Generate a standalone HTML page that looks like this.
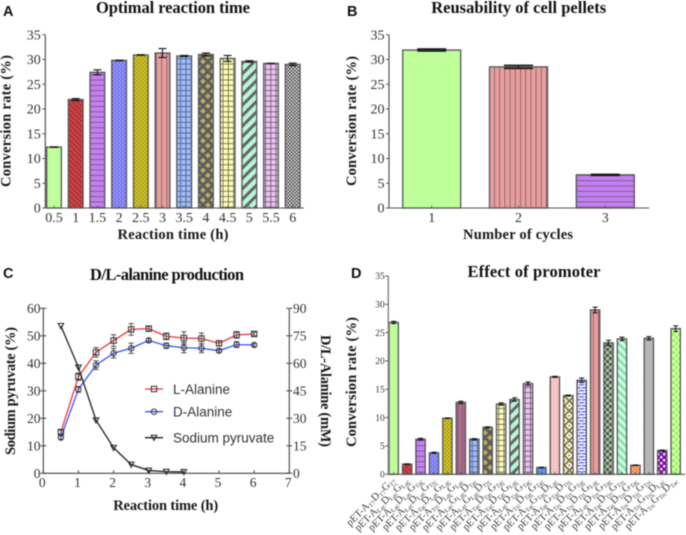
<!DOCTYPE html>
<html lang="en">
<head>
<meta charset="utf-8">
<title>Conversion rate charts</title>
<style>
html,body{margin:0;padding:0;background:#fff;width:686px;height:535px;overflow:hidden}
svg{display:block;filter:blur(0.5px)}
text{font-family:"Liberation Serif",serif;fill:#333}
.title{font-weight:bold;font-size:16.5px;fill:#111;text-anchor:middle}
.axt{font-weight:bold;font-size:14.5px;fill:#1a1a1a;text-anchor:middle}
.plabel{font-family:"Liberation Sans",sans-serif;font-weight:bold;font-size:14.5px;fill:#111}
.leg{font-family:"Liberation Sans",sans-serif;font-size:13.5px;fill:#333}
</style>
</head>
<body>
<svg id="chart" xmlns="http://www.w3.org/2000/svg" width="686" height="535" viewBox="0 0 686 535">
<defs>
<pattern id="p-red" width="3.6" height="3.6" patternUnits="userSpaceOnUse" patternTransform="rotate(-45)"><rect width="3.6" height="3.6" fill="#dd3c3e"/><rect width="1.2" height="3.6" fill="#7c3c40"/></pattern>
<pattern id="p-purple" width="5.3" height="5.3" patternUnits="userSpaceOnUse"><rect width="5.3" height="5.3" fill="#c67ef4"/><rect width="5.3" height="1" fill="#77608c"/></pattern>
<pattern id="p-blue" width="4" height="4" patternUnits="userSpaceOnUse"><rect width="4" height="4" fill="#8a8aff"/><circle cx="1" cy="1" r=".55" fill="#55558f"/><circle cx="3" cy="3" r=".55" fill="#55558f"/></pattern>
<pattern id="p-olive" width="4" height="4" patternUnits="userSpaceOnUse"><rect width="4" height="4" fill="#c8bb22"/><circle cx="1" cy="1" r=".55" fill="#6a6630"/><circle cx="3" cy="3" r=".55" fill="#6a6630"/></pattern>
<pattern id="p-pink" width="5.2" height="5.2" patternUnits="userSpaceOnUse"><rect width="5.2" height="5.2" fill="#e99d9d"/><rect width=".9" height="5.2" fill="#866"/></pattern>
<pattern id="p-mauve" width="4.4" height="4.4" patternUnits="userSpaceOnUse"><rect width="4.4" height="4.4" fill="#b0688f"/><rect width=".8" height="4.4" fill="#705a70"/></pattern>
<pattern id="p-lblue" width="5.3" height="5.3" patternUnits="userSpaceOnUse"><rect width="5.3" height="5.3" fill="#9cbcff"/><rect width="5.3" height=".9" fill="#5a6480"/><rect width=".9" height="5.3" fill="#5a6480"/></pattern>
<pattern id="p-cross" width="7" height="7" patternUnits="userSpaceOnUse" patternTransform="rotate(45)"><rect width="7" height="7" fill="#bcae62"/><rect width="3" height="7" fill="#5e5e5e"/><rect width="7" height="3" fill="#5e5e5e"/></pattern>
<pattern id="p-yellow" width="5.3" height="5.3" patternUnits="userSpaceOnUse"><rect width="5.3" height="5.3" fill="#ffffb5"/><rect width="5.3" height=".9" fill="#6d6d5d"/><rect width=".9" height="5.3" fill="#6d6d5d"/></pattern>
<pattern id="p-mint" width="7.4" height="7.4" patternUnits="userSpaceOnUse" patternTransform="rotate(45)"><rect width="7.4" height="7.4" fill="#b8f6da"/><rect width="3" height="7.4" fill="#666"/></pattern>
<pattern id="p-lilac" width="5.3" height="5.3" patternUnits="userSpaceOnUse"><rect width="5.3" height="5.3" fill="#ecc2f2"/><rect width="5.3" height=".9" fill="#6f5f74"/><rect width=".9" height="5.3" fill="#6f5f74"/></pattern>
<pattern id="p-check" width="3.4" height="3.4" patternUnits="userSpaceOnUse"><rect width="3.4" height="3.4" fill="#ddd"/><rect width="1.7" height="1.7" fill="#4a4a4a"/><rect x="1.7" y="1.7" width="1.7" height="1.7" fill="#4a4a4a"/></pattern>
<pattern id="p-darkblue" width="4" height="4" patternUnits="userSpaceOnUse"><rect width="4" height="4" fill="#5f90ea"/></pattern>
<pattern id="p-blush" width="2.6" height="2.6" patternUnits="userSpaceOnUse"><rect width="2.6" height="2.6" fill="#fbcaca"/><rect width="1" height="1" fill="#e89a9a"/></pattern>
<pattern id="p-whiteolive" width="7" height="7" patternUnits="userSpaceOnUse" patternTransform="rotate(45)"><rect width="7" height="7" fill="#8b7d35"/><rect x="1" y="1" width="5" height="5" fill="#fff"/><rect x="2.6" y="2.6" width="1.8" height="1.8" fill="#8b7d35"/></pattern>
<pattern id="p-brick" width="6" height="6" patternUnits="userSpaceOnUse"><rect width="6" height="6" fill="#fff"/><rect width="6" height="1.6" fill="#6f6ff5"/><rect y="3" width="6" height="1.6" fill="#6f6ff5"/><rect x="2" width="1" height="1.6" fill="#fff"/><rect x="5" y="3" width="1" height="1.6" fill="#fff"/></pattern>
<pattern id="p-greencheck" width="6" height="6" patternUnits="userSpaceOnUse"><rect width="6" height="6" fill="#a6cf9c"/><rect width="3" height="3" fill="#555"/><rect x="3" y="3" width="3" height="3" fill="#555"/></pattern>
<pattern id="p-wmint" width="5.6" height="5.6" patternUnits="userSpaceOnUse" patternTransform="rotate(-45)"><rect width="5.6" height="5.6" fill="#7fe8ae"/><rect width="2.4" height="5.6" fill="#e6fff0"/></pattern>
<pattern id="p-orange" width="4" height="4" patternUnits="userSpaceOnUse"><rect width="4" height="4" fill="#ef8a50"/><circle cx="1" cy="1" r=".7" fill="#ffd8c0"/><circle cx="3" cy="3" r=".7" fill="#ffd8c0"/></pattern>
<pattern id="p-fine" width="2.4" height="2.4" patternUnits="userSpaceOnUse"><rect width="2.4" height="2.4" fill="#d4d4d4"/><rect width="1.2" height="1.2" fill="#999"/><rect x="1.2" y="1.2" width="1.2" height="1.2" fill="#999"/></pattern>
<pattern id="p-violet" width="6" height="6" patternUnits="userSpaceOnUse"><rect width="6" height="6" fill="#7a0f9e"/><rect width="2.4" height="2.4" fill="#f0e0f5"/><rect x="3" y="3" width="2.4" height="2.4" fill="#f0e0f5"/></pattern>
<pattern id="p-lime" width="6" height="6" patternUnits="userSpaceOnUse"><rect width="6" height="6" fill="#8bff3a"/><rect width="3" height="3" fill="#e8ffd8"/><rect x="3" y="3" width="3" height="3" fill="#e8ffd8"/></pattern>
</defs>

<text class="plabel" x="3" y="16">A</text>
<text class="plabel" x="347" y="16">B</text>
<text class="plabel" x="3" y="278">C</text>
<text class="plabel" x="351" y="278">D</text>

<text class="title" x="173" y="13" textLength="154">Optimal reaction time</text>
<text class="title" x="518.7" y="13" textLength="175">Reusability of cell pellets</text>
<text class="title" x="167" y="280" textLength="154">D/L-alanine production</text>
<text class="title" x="534" y="277" textLength="133">Effect of promoter</text>

<text class="axt" x="173" y="239" textLength="111">Reaction time (h)</text>
<text class="axt" x="518" y="239" textLength="110">Number of cycles</text>
<text class="axt" x="165.7" y="510" textLength="105">Reaction time (h)</text>

<text class="axt" transform="translate(10.5,121) rotate(-90)" textLength="132">Conversion rate (%)</text>
<text class="axt" transform="translate(356,121) rotate(-90)" textLength="130">Conversion rate (%)</text>
<text class="axt" transform="translate(15,391) rotate(-90)" textLength="128">Sodium pyruvate (%)</text>
<text class="axt" transform="translate(321,391) rotate(90)" textLength="112">D/L-Alanine (mM)</text>
<text class="axt" transform="translate(356,382) rotate(-90)" textLength="130">Conversion rate (%)</text>

<g id="layer"></g>
</svg>
<script>
// Panel A
const categoriesA = ["0.5","1","1.5","2","2.5","3","3.5","4","4.5","5","5.5","6"];
const valuesA = [12.3,21.9,27.4,29.8,30.9,31.3,30.7,31.0,30.2,29.6,29.2,29.0];
const errorsA = [0.05,0.2,0.5,0.05,0.05,0.9,0.1,0.3,0.6,0.15,0.02,0.25];
const ticksA = [0,5,10,15,20,25,30,35];
// Panel B
const categoriesB = ["1","2","3"];
const valuesB = [31.9,28.5,6.7];
const errorsB = [0.2,0.3,0.1];
const ticksB = [0,5,10,15,20,25,30,35];
// Panel C
const timesC = [0.5,1,1.5,2,2.5,3,3.5,4,4.5,5,5.5,6];
const lAlanine = [22.5,52.7,66,72.4,78.5,78.9,74.7,73.8,73.5,70.9,75.5,76];
const lAlanineErr = [1,2,2.6,3.2,3.2,1.2,1.8,3.4,3,1.3,1.8,1];
const dAlanine = [19.5,45.8,59,65.5,68.2,72.5,69.6,68.5,68.2,66.9,70.2,70];
const dAlanineErr = [0.8,1.6,2.4,2.6,2.8,1,1.5,2.8,2.4,1,1.6,0.8];
const pyruvateTimes = [0.5,1,1.5,2,2.5,3,3.5,4];
const pyruvate = [53.6,38.5,19.3,9.3,3.2,1,0.6,0.5];
const ticksCx = [0,1,2,3,4,5,6,7];
const ticksCleft = [0,10,20,30,40,50,60];
const ticksCright = [0,15,30,45,60,75,90];
const legendC = ["L-Alanine","D-Alanine","Sodium pyruvate"];
// Panel D
const categoriesD = ["pET-AT7DT7GT7","pET-ALacDLacGLac","pET-ALacDLacGTac","pET-ALacDLacGTrc","pET-ATacDLacGLac","pET-ATrcDLacGLac","pET-ALacGLacDTac","pET-ALacGLacDTrc","pET-ATacDTacGTac","pET-ATacDTacGLac","pET-ALacDTacGTac","pET-ATrcDTacGTac","pET-ATacGTacDLac","pET-ATacGTacDTrc","pET-ATrcDTrcGTac","pET-ATrcDTrcGLac","pET-ALacDTrcGTac","pET-ATacDTrcGTrc","pET-ATacDTrcGTac","pET-ATrcDTrcGTrc","pET-ATrcGTrcDLac","pET-ATrcGTrcDTac"];
const valuesD = [26.8,1.8,6.2,3.8,9.9,12.7,6.2,8.3,12.4,13.2,16.0,1.2,17.2,13.9,16.6,29.0,23.2,23.9,1.6,24.0,4.2,25.7];
const errorsD = [0.2,0.05,0.15,0.1,0.05,0.2,0.1,0.08,0.2,0.3,0.3,0.05,0.1,0.08,0.4,0.5,0.45,0.3,0.05,0.3,0.08,0.5];
const ticksD = [0,5,10,15,20,25,30,35];
// Fills (style, separate from the data)
const fillsA = ["#bfff99","url(#p-red)","url(#p-purple)","url(#p-blue)","url(#p-olive)","url(#p-pink)","url(#p-lblue)","url(#p-cross)","url(#p-yellow)","url(#p-mint)","url(#p-lilac)","url(#p-check)"];
const fillsB = ["#bfff99","url(#p-pink)","url(#p-purple)"];
const fillsD = ["#bfff99","url(#p-red)","url(#p-purple)","url(#p-blue)","url(#p-olive)","url(#p-mauve)","url(#p-lblue)","url(#p-cross)","url(#p-yellow)","url(#p-mint)","url(#p-lilac)","url(#p-darkblue)","url(#p-blush)","url(#p-whiteolive)","url(#p-brick)","url(#p-pink)","url(#p-greencheck)","url(#p-wmint)","url(#p-orange)","url(#p-fine)","url(#p-violet)","url(#p-lime)"];

const NS = "http://www.w3.org/2000/svg";
const layer = document.getElementById("layer");
function make(tag, attrs, parent) {
  const el = document.createElementNS(NS, tag);
  for (const k in attrs) el.setAttribute(k, attrs[k]);
  (parent || layer).appendChild(el);
  return el;
}
function linear(d0, d1, r0, r1) {
  return v => r0 + (v - d0) * (r1 - r0) / (d1 - d0);
}

function line(x1, y1, x2, y2, stroke, w, name) {
  const el = make("line", {x1, y1, x2, y2, stroke, "stroke-width": w});
  
  
  return el;
}
function label(str, x, y, size, anchor, name) {
  const el = make("text", {x, y, "font-size": size, "text-anchor": anchor});
  el.textContent = str;
  
  
  return el;
}

function barPanel(opts) {
  const y = linear(0, 35, opts.y0, opts.y35);
  const x = linear(0, opts.values.length - 1, opts.xFirst, opts.xLast);
  opts.values.forEach((v, i) => {
    const bar = make("rect", {x: x(i) - opts.barW / 2, y: y(v), width: opts.barW, height: y(0) - y(v), fill: opts.fills[i], stroke: "#555", "stroke-width": 1.3});
    
    
    const e = opts.errors[i];
    line(x(i), y(v + e), x(i), y(v - e), "#111", 1, opts.key + '-error-stem-' + (i + 1));
    line(x(i) - opts.capW / 2, y(v + e), x(i) + opts.capW / 2, y(v + e), "#111", opts.capStroke, opts.key + '-error-cap-top-' + (i + 1));
    line(x(i) - opts.capW / 2, y(v - e), x(i) + opts.capW / 2, y(v - e), "#111", opts.capStroke, opts.key + '-error-cap-bottom-' + (i + 1));
    line(x(i), y(0), x(i), y(0) - 2.5, "#555", 0.8, opts.key + '-x-tick-' + (i + 1));
    if (opts.categories) {
      label(opts.categories[i], x(i), opts.xLabelY, opts.xFont, "middle", opts.key + '-x-tick-label-' + (i + 1));
    }
  });
  line(opts.axisX, y(35), opts.axisX, y(0), opts.axisColor, opts.axisW, opts.key + '-y-axis');
  line(opts.axisX, y(0), opts.xEnd, y(0), "#555", 1.1, opts.key + '-x-axis');
  opts.ticks.forEach((t, i) => {
    line(opts.axisX - 3, y(t), opts.axisX, y(t), "#555", 1, opts.key + '-y-tick-' + i);
    label(String(t), opts.axisX - opts.labelGap, y(t) + opts.yFont * 0.33, opts.yFont, "end", opts.key + '-y-tick-label-' + i);
  });
}

barPanel({key: "panel-a", values: valuesA, errors: errorsA, fills: fillsA, categories: categoriesA, ticks: ticksA, y0: 208, y35: 34.7, xFirst: 54, xLast: 292.7, barW: 14.7, capW: 8, capStroke: 1.1, axisX: 45.3, xEnd: 304, axisColor: "#444", axisW: 1.1, labelGap: 4.5, xLabelY: 222, xFont: 14, yFont: 14});
barPanel({key: "panel-b", values: valuesB, errors: errorsB, fills: fillsB, categories: categoriesB, ticks: ticksB, y0: 208, y35: 34.7, xFirst: 431.7, xLast: 605.3, barW: 58, capW: 29, capStroke: 1.5, axisX: 389, xEnd: 649, axisColor: "#444", axisW: 1.1, labelGap: 4.5, xLabelY: 222, xFont: 14, yFont: 14});
barPanel({key: "panel-d", values: valuesD, errors: errorsD, fills: fillsD, categories: null, ticks: ticksD, y0: 474.3, y35: 276, xFirst: 393.7, xLast: 675.7, barW: 9.3, capW: 5, capStroke: 1, axisX: 388.3, xEnd: 685, axisColor: "#888", axisW: 1.5, labelGap: 3.5, xLabelY: 0, xFont: 9, yFont: 9.5});

// Panel D rotated category labels
const xD = linear(0, categoriesD.length - 1, 393.7, 675.7);
categoriesD.forEach((name, i) => {
  const px = xD(i) + 2;
  const el = make("text", {transform: "translate(" + px + ",481) rotate(-45)", "font-size": 10.4, "text-anchor": "end", style: "fill:#3c3c3c"});
  
  
  const parts = name.split(/(T7|Lac|Tac|Trc)/).filter(Boolean);
  let shifted = false;
  parts.forEach(p => {
    const isSub = /^(T7|Lac|Tac|Trc)$/.test(p);
    const span = make("tspan", {"font-size": isSub ? 6.4 : 10.4}, el);
    if (isSub && !shifted) { span.setAttribute("dy", "1.8"); shifted = true; }
    else if (!isSub && shifted) { span.setAttribute("dy", "-1.8"); shifted = false; }
    span.textContent = p;
  });
});

// Panel C
const xC = linear(0, 7, 43.3, 289.3);
const yLeft = linear(0, 60, 473.3, 308.3);
const yRight = linear(0, 90, 473.3, 308.3);
line(43.3, 308.3, 43.3, 473.3, "#444", 1.1, 'panel-c-left-y-axis');
line(289.3, 308.3, 289.3, 473.3, "#444", 1.1, 'panel-c-right-y-axis');
line(43.3, 473.3, 289.3, 473.3, "#444", 1.1, 'panel-c-x-axis');
ticksCx.forEach((t, i) => {
  line(xC(t), 473.3, xC(t), 470.3, "#444", 1, 'panel-c-x-tick-' + i);
  label(String(t), xC(t) - 1, 487, 13.5, "middle", 'panel-c-x-tick-label-' + i);
});
ticksCleft.forEach((t, i) => {
  line(40.3, yLeft(t), 46.3, yLeft(t), "#444", 1, 'panel-c-left-y-tick-' + i);
  label(String(t), 40.5, yLeft(t) + 4.5, 13.5, "end", 'panel-c-left-y-tick-label-' + i);
});
ticksCright.forEach((t, i) => {
  line(286.3, yRight(t), 292.3, yRight(t), "#444", 1, 'panel-c-right-y-tick-' + i);
  label(String(t), 293, yRight(t) + 4.5, 13.5, "start", 'panel-c-right-y-tick-label-' + i);
});

function polyline(xs, ys, stroke, name) {
  const pts = xs.map((v, i) => v + "," + ys[i]).join(" ");
  const el = make("polyline", {points: pts, fill: "none", stroke, "stroke-width": 1.3});
  
  
}
function squareAt(cx, cy, name) {
  const el = make("rect", {x: cx - 2.7, y: cy - 2.7, width: 5.4, height: 5.4, fill: "none", stroke: "#333", "stroke-width": 1});
  
  
}
function circleAt(cx, cy, name) {
  const el = make("circle", {cx, cy, r: 2.7, fill: "none", stroke: "#333", "stroke-width": 1});
  
  
}
function triangleAt(cx, cy, name) {
  const el = make("polygon", {points: (cx - 2.8) + "," + (cy - 2.4) + " " + (cx + 2.8) + "," + (cy - 2.4) + " " + cx + "," + (cy + 2.8), fill: "none", stroke: "#222", "stroke-width": 1});
  
  
}
function errBar(cx, yHi, yLo, name) {
  line(cx, yHi, cx, yLo, "#444", 0.9, name + '-stem');
  line(cx - 2.7, yHi, cx + 2.7, yHi, "#444", 0.9, name + '-cap-top');
  line(cx - 2.7, yLo, cx + 2.7, yLo, "#444", 0.9, name + '-cap-bottom');
}

polyline(timesC.map(xC), lAlanine.map(yRight), "#e8383c", 'l-alanine-line');
polyline(timesC.map(xC), dAlanine.map(yRight), "#3a55f5", 'd-alanine-line');
polyline(pyruvateTimes.map(xC), pyruvate.map(yLeft), "#222", 'sodium-pyruvate-line');
timesC.forEach((t, i) => {
  errBar(xC(t), yRight(lAlanine[i] + lAlanineErr[i]), yRight(lAlanine[i] - lAlanineErr[i]), 'l-alanine-error-' + i);
  squareAt(xC(t), yRight(lAlanine[i]), 'l-alanine-point-' + i);
  errBar(xC(t), yRight(dAlanine[i] + dAlanineErr[i]), yRight(dAlanine[i] - dAlanineErr[i]), 'd-alanine-error-' + i);
  circleAt(xC(t), yRight(dAlanine[i]), 'd-alanine-point-' + i);
});
pyruvateTimes.forEach((t, i) => {
  triangleAt(xC(t), yLeft(pyruvate[i]), 'sodium-pyruvate-point-' + i);
});

// Legend
line(145, 389, 163, 389, "#e8383c", 1.3, 'legend-line-l-alanine');
squareAt(154, 389, 'legend-marker-l-alanine');
line(145, 411.7, 163, 411.7, "#3a55f5", 1.3, 'legend-line-d-alanine');
circleAt(154, 411.7, 'legend-marker-d-alanine');
line(145, 437.7, 163, 437.7, "#222", 1.3, 'legend-line-sodium-pyruvate');
triangleAt(154, 437.7, 'legend-marker-sodium-pyruvate');
const legendYs = [394, 416.5, 442.5];
legendC.forEach((s, i) => {
  const el = make("text", {x: 173, y: legendYs[i], class: "leg"});
  el.textContent = s;
  
  
});
</script>
</body>
</html>
